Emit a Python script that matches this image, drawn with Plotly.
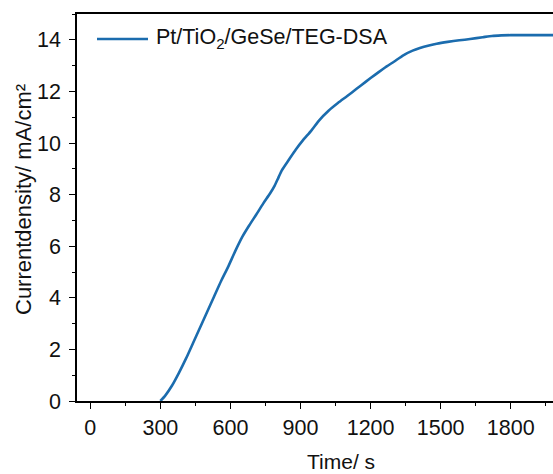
import plotly.graph_objects as go

# Chronoamperometry trace: time (s) vs current density (mA/cm^2)
time_s = [300, 320, 350, 380, 410, 440, 470, 500, 530, 560, 590, 620, 650, 680,
          710, 740, 770, 790, 805, 820, 850, 880, 910, 947, 980, 1020, 1060, 1100,
          1140, 1180, 1220, 1269, 1300, 1340, 1380, 1411, 1450, 1483, 1530, 1580,
          1626, 1680, 1720, 1760, 1800, 1900, 1990]
current_density = [0.0, 0.2, 0.6, 1.1, 1.65, 2.25, 2.85, 3.45, 4.05, 4.65, 5.2, 5.8,
                   6.35, 6.8, 7.22, 7.65, 8.05, 8.36, 8.65, 8.94, 9.35, 9.75, 10.1,
                   10.49, 10.88, 11.25, 11.55, 11.82, 12.1, 12.38, 12.65, 12.97, 13.15,
                   13.4, 13.58, 13.68, 13.78, 13.85, 13.92, 13.98, 14.03, 14.1, 14.15,
                   14.17, 14.18, 14.18, 14.18]
series_name = "Pt/TiO<sub>2</sub>/GeSe/TEG-DSA"

x_ticks = [0, 300, 600, 900, 1200, 1500, 1800]
y_ticks = [0, 2, 4, 6, 8, 10, 12, 14]

LINE_COLOR = "#1b6cae"
FONT = "Liberation Sans, Arial, Helvetica, sans-serif"
TEXT_COLOR = "#111111"

fig = go.Figure()
fig.add_trace(go.Scatter(
    x=time_s, y=current_density, mode="lines", name=series_name,
    line=dict(color=LINE_COLOR, width=2.6, shape="spline", smoothing=0.6),
    showlegend=False,
))

axis_common = dict(
    showgrid=False, zeroline=False, showline=True, linecolor="black", linewidth=1.5,
    ticks="outside", ticklen=6, tickwidth=1.3, tickcolor="black",
    tickfont=dict(family=FONT, size=21.5, color=TEXT_COLOR),
)

fig.update_xaxes(
    **axis_common, range=[-57, 1981], tickvals=x_ticks, mirror=True,
    minor=dict(ticks="outside", ticklen=3, tickwidth=1.3, tickcolor="black", dtick=150, tick0=0),
)
fig.update_yaxes(
    **axis_common, range=[0, 15], tickvals=y_ticks, ticklabelstandoff=4,
    minor=dict(ticks="outside", ticklen=3, tickwidth=1.3, tickcolor="black", dtick=1, tick0=0),
)

# Legend entry drawn by hand: sample line plus label
legend_y = (474 - 73 - 39) / 387
fig.add_shape(type="line", xref="paper", yref="paper",
              x0=(97 - 77) / 476, x1=(148 - 77) / 476, y0=legend_y, y1=legend_y,
              line=dict(color=LINE_COLOR, width=2.6))
fig.add_annotation(text=series_name, xref="paper", yref="paper",
                   x=(154 - 77) / 476, y=legend_y,
                   xanchor="left", yanchor="middle", showarrow=False,
                   font=dict(family=FONT, size=21.5, color=TEXT_COLOR))

# Axis titles
fig.add_annotation(text="Time/ s", xref="paper", yref="paper",
                   x=(341 - 77) / 476, y=(474 - 73 - 462) / 387,
                   xanchor="center", yanchor="middle", showarrow=False,
                   font=dict(family=FONT, size=21, color=TEXT_COLOR))
fig.add_annotation(text="Currentdensity/ mA/cm²", xref="paper", yref="paper",
                   x=(23 - 77) / 476, y=(474 - 73 - 200) / 387, textangle=-90,
                   xanchor="center", yanchor="middle", showarrow=False,
                   font=dict(family=FONT, size=22, color=TEXT_COLOR))

fig.update_layout(
    width=553, height=474, margin=dict(l=77, r=0, t=14, b=73),
    plot_bgcolor="white", paper_bgcolor="white",
)

fig.write_html("out.html")
